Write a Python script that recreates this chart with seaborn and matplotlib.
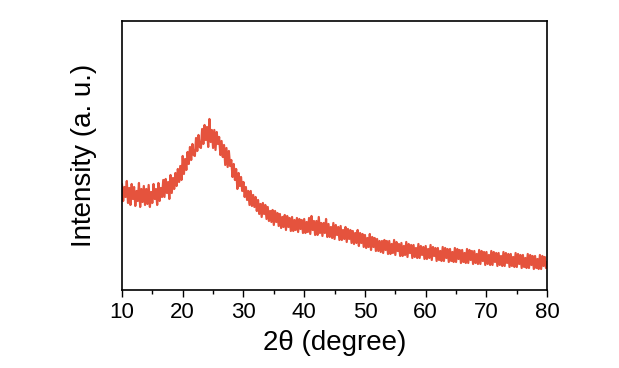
import numpy as np
import pandas as pd
import matplotlib
matplotlib.use("Agg")
import matplotlib.pyplot as plt
import seaborn as sns

# 2theta grid (degrees), step 0.2 from 10 to 80
two_theta = np.round(np.arange(10, 80.0001, 0.2), 1)

intensity = [
    106, 89, 103, 93, 109,   87, 102, 85, 106, 91,  103, 84, 99, 89, 107,
    83, 101, 88, 104, 85,    101, 86, 105, 83, 98,  87, 106, 91, 101, 85,
    107, 89, 102, 93, 110,   93, 111, 97, 108, 91,  115, 97, 112, 101, 117,
    104, 121, 108, 124, 110, 134, 116, 131, 120, 138, 126, 143, 130, 146, 135,
    134, 152, 139, 155, 143, 142, 161, 146, 165, 150, 163, 143, 171, 148, 160,
    142, 160, 140, 158, 146, 153, 135, 149, 133, 145, 125, 142, 123, 139, 124,
    130, 113, 126, 110, 121, 101, 117, 104, 113, 99, 108, 93, 103, 90, 99,
    85, 99, 84, 95, 83,      93, 79, 90, 76, 86,    73, 87, 76, 85, 71,
    83, 69, 79, 68, 80,      65, 79, 68, 77, 64,    76, 62, 73, 63, 75,
    60, 74, 63, 72, 59,      73, 59, 70, 60, 72,    58, 71, 61, 70, 57,
    71, 57, 68, 58, 72,      56, 74, 60, 69, 55,    69, 55, 73, 57, 67,
    54, 67, 57, 71, 53,      66, 53, 63, 52, 67,    51, 65, 55, 63, 50,
    64, 50, 60, 51, 63,      48, 61, 51, 60, 47,    59, 46, 57, 47, 60,
    44, 57, 47, 56, 43,      55, 42, 52, 43, 56,    40, 53, 43, 52, 39,
    51, 39, 49, 38, 49,      37, 50, 40, 49, 36,    49, 36, 46, 37, 50,
    35, 48, 39, 46, 34,      47, 34, 44, 35, 48,    33, 46, 37, 45, 32,
    45, 33, 42, 32, 46,      32, 44, 35, 43, 31,    44, 31, 41, 32, 45,
    30, 43, 34, 42, 29,      42, 30, 39, 29, 43,    29, 42, 32, 41, 28,
    41, 29, 38, 28, 42,      28, 41, 31, 40, 27,    40, 28, 37, 27, 41,
    27, 40, 30, 39, 26,      39, 27, 36, 26, 40,    26, 39, 29, 38, 25,
    38, 26, 35, 25, 39,      25, 38, 28, 37, 24,    37, 25, 34, 24, 38,
    24, 37, 27, 36, 23,      36, 24, 33, 23, 37,    23, 36, 26, 35, 22,
    35, 23, 32, 22, 36,      22, 35, 25, 34, 21,    34, 22, 31, 21, 35,
    21, 34, 24, 33, 22,
    28,
]

x_ticks = [10, 20, 30, 40, 50, 60, 70, 80]

df = pd.DataFrame({"two_theta": two_theta, "intensity": intensity})

sns.set_style("ticks")
plt.rcParams["font.family"] = ["Liberation Sans", "DejaVu Sans"]

fig = plt.figure(figsize=(6.19, 3.68), dpi=100)
ax = fig.add_axes([0.197, 0.212, 0.687, 0.731])

sns.lineplot(data=df, x="two_theta", y="intensity", ax=ax,
             color="#e5533d", linewidth=1.6)

ax.set_xlim(10, 80)
ax.set_ylim(0, 269)
ax.set_xticks(x_ticks)
ax.set_xticklabels([str(t) for t in x_ticks])
ax.set_xticks(np.arange(15, 80, 10), minor=True)
ax.set_yticks([])
ax.tick_params(axis="x", which="major", direction="out", length=5, width=1,
               labelsize=16, pad=4, colors="black")
ax.tick_params(axis="x", which="minor", direction="out", length=3, width=1,
               colors="black")
for s in ax.spines.values():
    s.set_visible(True)
    s.set_linewidth(1.2)
    s.set_color("black")

ax.set_xlabel("2θ (degree)", fontsize=20, labelpad=5, color="black")
ax.set_ylabel("Intensity (a. u.)", fontsize=20, labelpad=18, color="black")

fig.savefig("out.png", dpi=100)
